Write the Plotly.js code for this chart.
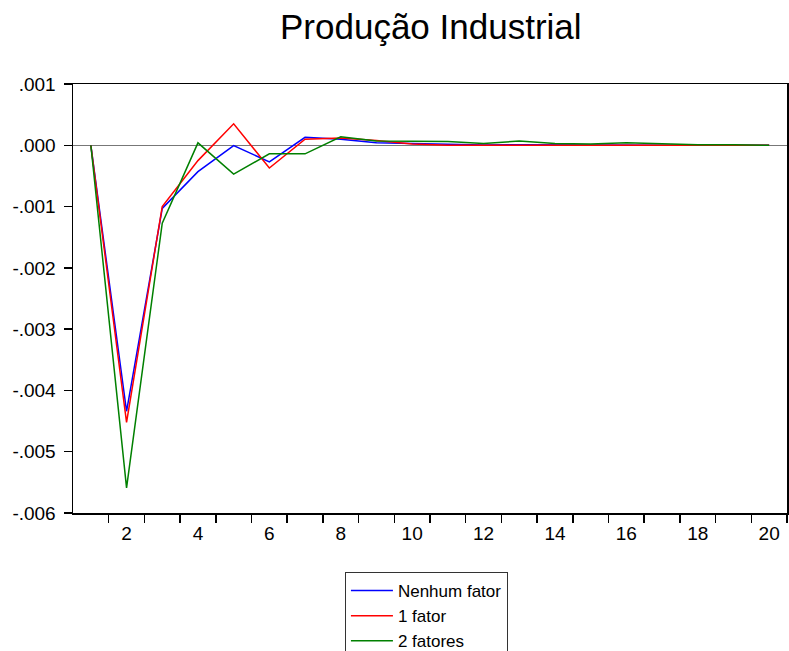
<!DOCTYPE html>
<html>
<head>
<meta charset="utf-8">
<script src="https://cdn.plot.ly/plotly-3.0.1.min.js"></script>
<style>html,body{margin:0;padding:0;background:#fff;overflow:hidden;}#chart{width:789px;height:680px;}</style>
</head>
<body>
<div id="chart"></div>
<script>
const periods = [1,2,3,4,5,6,7,8,9,10,11,12,13,14,15,16,17,18,19,20];
const nenhumFator = [0, -0.00434, -0.00103, -0.00043, -0.000005, -0.00027, 0.00013, 0.00010, 0.00004, 0.00003, 0.00001, 0.000005, 0.00001, 0.000005, 0, 0, 0, 0, 0, 0];
const umFator = [0, -0.00452, -0.00100, -0.00025, 0.00035, -0.00037, 0.00010, 0.00012, 0.00008, 0.00002, 0, 0, 0, 0, 0, 0, 0, 0, 0, 0];
const doisFatores = [0, -0.00559, -0.00127, 0.00004, -0.00047, -0.00014, -0.00014, 0.00014, 0.00007, 0.00007, 0.00006, 0.00003, 0.00007, 0.00003, 0.00002, 0.00004, 0.00002, 0.00001, 0.00001, 0];
const seriesNames = ["Nenhum fator", "1 fator", "2 fatores"];
const yTickVals = [0.001, 0, -0.001, -0.002, -0.003, -0.004, -0.005, -0.006];
const yTickText = [".001", ".000", "-.001", "-.002", "-.003", "-.004", "-.005", "-.006"];
const xLabelVals = [2,4,6,8,10,12,14,16,18,20];
const xTickBoundaries = [1.5,2.5,3.5,4.5,5.5,6.5,7.5,8.5,9.5,10.5,11.5,12.5,13.5,14.5,15.5,16.5,17.5,18.5,19.5,20.5];

const font = "Liberation Sans, Arial, sans-serif";
const colors = ["#0000FF", "#FF0000", "#008000"];
const data = [nenhumFator, umFator, doisFatores].map((ys, i) => ({
  x: periods, y: ys, type: "scatter", mode: "lines", name: seriesNames[i],
  line: {color: colors[i], width: 1.5}
}));

const layout = {
  width: 789, height: 680,
  margin: {l: 73, r: 2, t: 84, b: 167},
  paper_bgcolor: "#fff", plot_bgcolor: "#fff",
  font: {family: font, size: 19, color: "#000"},
  title: {text: "Produção Industrial", font: {family: font, size: 35, color: "#000"},
          x: 0.546, xanchor: "center", y: 0.978, yanchor: "top"},
  showlegend: true,
  legend: {x: 0.495, xanchor: "center", y: -0.1375, yanchor: "top", itemwidth: 42,
           bordercolor: "#333", borderwidth: 1, bgcolor: "#fff",
           font: {family: font, size: 17, color: "#000"}, tracegroupgap: 0},
  xaxis: {range: [0.5, 20.5], showgrid: false, zeroline: false, automargin: false,
          showline: true, linecolor: "#000", linewidth: 1.5, mirror: true,
          tickmode: "array", tickvals: xLabelVals, ticks: "", ticklabelstandoff: 3,
          minor: {tickmode: "array", tickvals: xTickBoundaries, ticks: "outside", ticklen: 8, tickcolor: "#000", tickwidth: 1.5},
          tickfont: {family: font, size: 19, color: "#000"}},
  yaxis: {range: [-0.006, 0.001], showgrid: false, automargin: false,
          zeroline: true, zerolinecolor: "#777", zerolinewidth: 1.5,
          showline: true, linecolor: "#000", linewidth: 1.5, mirror: true,
          tickmode: "array", tickvals: yTickVals, ticktext: yTickText,
          ticks: "outside", ticklen: 8, tickcolor: "#000", tickwidth: 1.5, ticklabelstandoff: 4,
          tickfont: {family: font, size: 19, color: "#000"}}
};
Plotly.newPlot("chart", data, layout, {staticPlot: true, displayModeBar: false});
</script>
</body>
</html>
